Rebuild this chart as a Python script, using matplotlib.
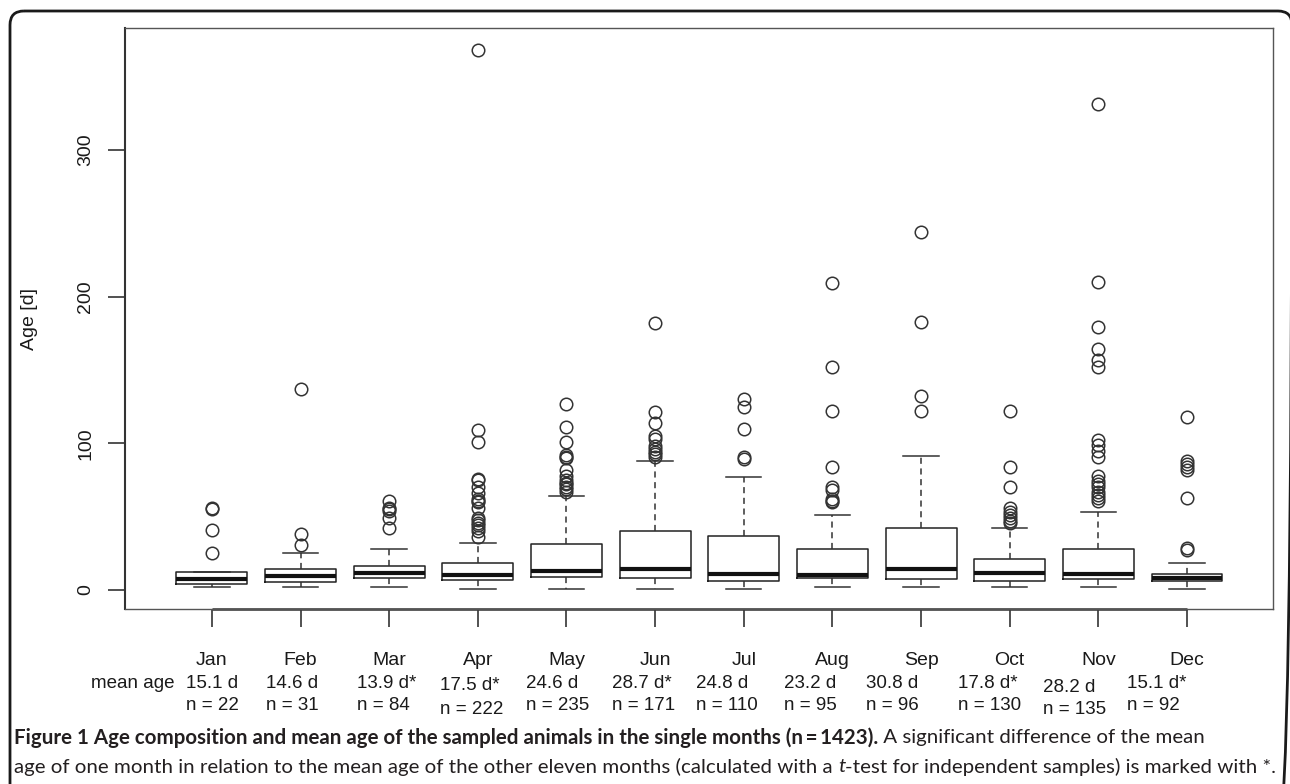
import matplotlib
matplotlib.use('Agg')
import matplotlib.pyplot as plt
from matplotlib.patches import FancyBboxPatch

# box statistics (age in days)
months = ['Jan', 'Feb', 'Mar', 'Apr', 'May', 'Jun', 'Jul', 'Aug', 'Sep', 'Oct', 'Nov', 'Dec']
q1 = [4.1, 5.2, 8.2, 6.8, 9.1, 8.2, 5.9, 8.2, 7.3, 6.1, 7.3, 6.1]
med = [7.3, 9.3, 11.8, 10.2, 13.0, 14.1, 11.1, 10.5, 14.1, 11.4, 11.1, 8.4]
q3 = [12.1, 14.1, 16.2, 18.2, 31.2, 40.2, 36.8, 27.7, 42.5, 20.9, 27.7, 10.9]
whislo = [2, 2, 2, 1, 1, 1, 1, 2, 2, 2, 2, 1]
whishi = [12.1, 25.2, 28, 32.2, 64, 88.2, 76.8, 50.9, 91.1, 42.3, 53, 18.2]
fliers = [
    [25, 41, 55.5, 56],
    [31, 38, 137],
    [42, 49, 54, 55.5, 56, 61],
    [36, 40, 42, 44, 46, 48, 49, 56, 60, 61, 62, 66, 70, 75, 76, 101, 109, 368],
    [67, 69, 70, 72, 73, 75, 78, 82, 90, 91, 92, 101, 111, 127],
    [91, 93, 94, 96, 98, 103, 105, 114, 121, 182],
    [89, 91, 110, 125, 130],
    [60, 61, 62, 68, 70, 84, 122, 152, 209],
    [122, 132, 183, 244],
    [46, 47, 49, 51, 53, 56, 70, 84, 122],
    [61, 63, 65, 67, 70, 72, 74, 78, 91, 95, 99, 102, 152, 157, 164, 179, 210, 331],
    [27.5, 28.5, 63, 82, 84, 86, 88, 118],
]
mean_age = ['15.1 d', '14.6 d', '13.9 d*', '17.5 d*', '24.6 d', '28.7 d*',
            '24.8 d', '23.2 d', '30.8 d', '17.8 d*', '28.2 d', '15.1 d*']
n_month = [22, 31, 84, 222, 235, 171, 110, 95, 96, 130, 135, 92]
yticks = [0, 100, 200, 300]

# layout (figure pixels)
W, H = 1290, 784
txt_left = [186, 266, 357, 440, 526, 612, 696, 784, 866, 958, 1043, 1127]
txt_drop = [0, 0, 0, 3, 0, 0, 0, 0, 0, 0, 4, 0]
n_drop = [0, 0, 0, 5, 0, 0, 0, 0, 0, 0, 5, 0]
FS = 14
FS_TAB = 13.5

plt.rcParams['font.family'] = ['Liberation Sans', 'DejaVu Sans']
ink = '#222222'
txt = '#1a1a1a'

fig = plt.figure(figsize=(W / 100, H / 100), dpi=100)
bg = fig.add_axes([0, 0, 1, 1], zorder=0)
bg.set_xlim(0, W)
bg.set_ylim(H, 0)
bg.axis('off')

frame = FancyBboxPatch((10, 11), 1282, 820, boxstyle='round,pad=0,rounding_size=14',
                       fill=False, lw=2, ec='#1a1a1a')
bg.add_patch(frame)

ax = fig.add_axes([125 / W, (H - 609) / H, (1273 - 125) / W, (609 - 28) / H], zorder=1)
ax.patch.set_alpha(0)

stats = []
for i, m in enumerate(months):
    stats.append(dict(label=m, q1=q1[i], med=med[i], q3=q3[i],
                      whislo=whislo[i], whishi=whishi[i], fliers=fliers[i]))

pos = list(range(1, 13))
ax.bxp(stats, positions=pos, widths=0.8, capwidths=0.4, showfliers=True,
       boxprops=dict(color=ink, lw=1.1),
       medianprops=dict(color='#111111', lw=3),
       whiskerprops=dict(color='#333333', lw=1.1, ls=(0, (4, 3))),
       capprops=dict(color='#333333', lw=1.1),
       flierprops=dict(marker='o', mfc='none', mec='#333333', ms=9, mew=1.1))

ax.set_xlim(0.02, 12.97)
ax.set_ylim(-12.95, 383.1)

for s in ax.spines.values():
    s.set_color('#555555')
    s.set_linewidth(1)
ax.spines['left'].set_linewidth(1.5)
ax.spines['left'].set_color('#333333')
ax.plot([1, 12], [-12.95, -12.95], color='#333333', lw=1.8, clip_on=False,
        solid_capstyle='butt')

ax.set_xticks(pos)
ax.set_xticklabels(months, fontsize=FS, color=txt)
ax.tick_params(axis='x', length=13, width=1.2, color='#333333', pad=18)
ax.set_yticks(yticks)
ax.set_yticklabels([str(v) for v in yticks], rotation=90, va='center',
                   fontsize=FS, color=txt)
ax.tick_params(axis='y', length=12, width=1.2, color='#333333', pad=10)
ax.set_ylabel('Age [d]', fontsize=FS, color=txt)
ax.yaxis.set_label_coords((38 - 125) / (1273 - 125), 0.5)

# mean age / n table under the months
bg.text(91, 683, 'mean age', fontsize=FS_TAB, va='center', ha='left', color=txt)
for i in range(12):
    bg.text(txt_left[i], 683 + txt_drop[i], mean_age[i], fontsize=FS_TAB,
            va='center', ha='left', color=txt)
    bg.text(txt_left[i], 705 + n_drop[i], 'n = %d' % n_month[i], fontsize=FS_TAB,
            va='center', ha='left', color=txt)

# caption
cap_font = ['Lato', 'DejaVu Sans']
line1 = [('Figure 1 Age composition and mean age of the sampled animals in the single months (n\u2009=\u20091423).', 'bold', 'normal'),
         (' A significant difference of the mean', 'normal', 'normal')]
line2 = [('age of one month in relation to the mean age of the other eleven months (calculated with a ', 'normal', 'normal'),
         ('t', 'normal', 'italic'),
         ('-test for independent samples) is marked with *.', 'normal', 'normal')]

fig.canvas.draw()
r = fig.canvas.get_renderer()


def draw_line(parts, x0, y, fs):
    x = x0
    items = []
    for s, w, st in parts:
        t = bg.text(x, y, s, fontsize=fs, fontweight=w, fontstyle=st, family=cap_font,
                    va='center', ha='left', color='#231f20')
        bb = t.get_window_extent(r)
        x = x + bb.width
        items.append(t)
    return items, x


fs = 13
tmp1, x1 = draw_line(line1, 14, 738, fs)
tmp2, x2 = draw_line(line2, 14, 767, fs)
for t in tmp1 + tmp2:
    t.remove()
fs = min(fs * (1277 - 14) / (x1 - 14), fs * (1268 - 14) / (x2 - 14))
draw_line(line1, 14, 738, fs)
draw_line(line2, 14, 767, fs)

fig.savefig('out.png', dpi=100)
